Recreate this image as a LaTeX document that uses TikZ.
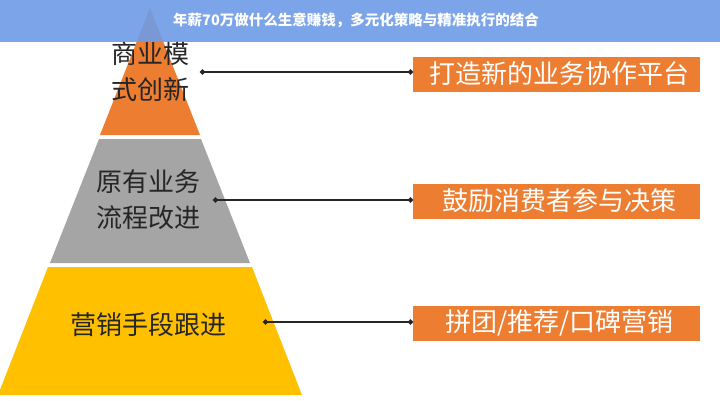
\documentclass[tikz,border=0pt]{standalone}
\usepackage{fontspec}
\usetikzlibrary{arrows.meta}
\newfontfamily\cjk{Noto Sans CJK SC}
\definecolor{org}{HTML}{ED7D31}
\definecolor{gry}{HTML}{A5A5A5}
\definecolor{yel}{HTML}{FFC000}
\definecolor{bar}{HTML}{6E9BE6}
\begin{document}
\begin{tikzpicture}[x=1pt,y=-1pt,
  lbl/.style={font=\cjk\fontsize{26}{30}\selectfont,text=black!85,align=center},
  tag/.style={fill=org,text=white,font=\cjk\fontsize{26}{28}\selectfont,minimum width=287pt,minimum height=35pt,anchor=west,inner sep=0pt},
  conn/.style={line width=1.3pt,black!85,{Circle[length=5pt]}-{Circle[length=5pt]}}]
\useasboundingbox (0,0) rectangle (720,400);
\fill[white] (0,0) rectangle (720,400);
\fill[org] (150,8) -- (200,135) -- (100,135) -- cycle;
\fill[gry] (99,139) -- (201,139) -- (250,263) -- (50,263) -- cycle;
\fill[yel] (48,267) -- (252,267) -- (302,395) -- (-2,395) -- cycle;
\node[lbl] (a) at (150,72) {商业模\\[6pt]式创新};
\node[lbl] (b) at (148,200) {原有业务\\[6pt]流程改进};
\node[lbl] (c) at (148,325) {营销手段跟进};
\node[tag] (ta) at (413,74) {\hspace*{6pt}打造新的业务协作平台\hfill};
\node[tag] (tb) at (413,201) {\hspace*{6pt}鼓励消费者参与决策\hfill};
\node[tag] (tc) at (413,323) {\hspace*{6pt}拼团/推荐/口碑营销\hfill};
\coordinate (pa) at (200,72);
\coordinate (pb) at (213,200);
\coordinate (pc) at (263,322);
\draw[conn] (pa) -- (ta.west |- pa);
\draw[conn] (pb) -- (tb.west |- pb);
\draw[conn] (pc) -- (tc.west |- pc);
\fill[bar,opacity=0.9] (0,0) rectangle (720,42);
\node[font=\cjk\bfseries\fontsize{14.5}{16}\selectfont,text=white] (t) at (356,20) {年薪70万做什么生意赚钱，多元化策略与精准执行的结合};
\end{tikzpicture}
\end{document}
